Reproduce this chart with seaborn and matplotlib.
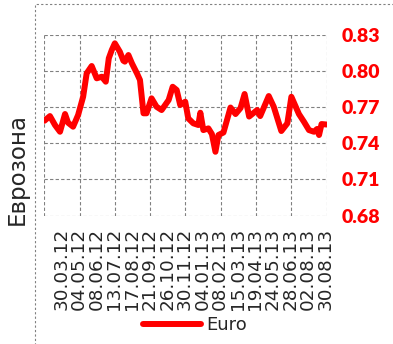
import pandas as pd
import numpy as np
import matplotlib
matplotlib.use('Agg')
import matplotlib.pyplot as plt
import matplotlib.dates as mdates
from matplotlib.ticker import FixedLocator
from matplotlib.patches import Rectangle
import seaborn as sns

# --- Data (EUR rate, Eurozone) ---
dates = ['2012-02-25', '2012-03-07', '2012-03-17', '2012-03-27', '2012-04-06',
         '2012-04-12', '2012-04-22', '2012-05-02', '2012-05-12', '2012-05-19',
         '2012-05-29', '2012-06-08', '2012-06-18', '2012-06-26', '2012-07-02',
         '2012-07-08', '2012-07-14', '2012-07-24', '2012-07-31', '2012-08-03',
         '2012-08-10', '2012-08-17', '2012-08-27', '2012-09-02', '2012-09-09',
         '2012-09-15', '2012-09-25', '2012-10-05', '2012-10-15', '2012-10-29',
         '2012-11-06', '2012-11-14', '2012-11-21', '2012-12-01', '2012-12-07',
         '2012-12-17', '2012-12-27', '2012-12-31', '2013-01-06', '2013-01-16',
         '2013-01-23', '2013-01-30', '2013-02-05', '2013-02-15', '2013-03-01',
         '2013-03-11', '2013-03-21', '2013-03-29', '2013-04-07', '2013-04-23',
         '2013-04-29', '2013-05-16', '2013-05-26', '2013-06-10', '2013-06-22',
         '2013-06-30', '2013-07-15', '2013-07-25', '2013-08-04', '2013-08-14',
         '2013-08-20', '2013-08-24', '2013-08-29', '2013-09-08']
euro = [0.7585, 0.7624, 0.7550, 0.7494, 0.7641,
        0.7569, 0.7536, 0.7633, 0.7784, 0.7978,
        0.8039, 0.7937, 0.7950, 0.7909, 0.8103,
        0.8172, 0.8227, 0.8157, 0.8083, 0.8075,
        0.8130, 0.8061, 0.7978, 0.7923, 0.7647,
        0.7647, 0.7771, 0.7701, 0.7674, 0.7757,
        0.7867, 0.7840, 0.7716, 0.7743, 0.7605,
        0.7564, 0.7550, 0.7652, 0.7508, 0.7522,
        0.7475, 0.7328, 0.7467, 0.7488, 0.7695,
        0.7641, 0.7691, 0.7807, 0.7620, 0.7674,
        0.7624, 0.7790, 0.7701, 0.7500, 0.7564,
        0.7784, 0.7641, 0.7577, 0.7508, 0.7494,
        0.7517, 0.7467, 0.7558, 0.7554]

# category-style axis: labels sit at a regular 35-day step
tick_labels = ['30.03.12', '04.05.12', '08.06.12', '13.07.12', '17.08.12',
               '21.09.12', '26.10.12', '30.11.12', '04.01.13', '08.02.13',
               '15.03.13', '19.04.13', '24.05.13', '28.06.13', '02.08.13',
               '30.08.13']
tick_pos = pd.date_range('2012-03-30', periods=len(tick_labels), freq='35D')
y_ticks = [0.68, 0.71, 0.74, 0.77, 0.80, 0.83]

df = pd.DataFrame({'Date': pd.to_datetime(dates), 'Euro': euro})

sns.set_style('white')
plt.rcParams['font.family'] = ['DejaVu Sans']

fig = plt.figure(figsize=(3.93, 3.44), dpi=100)
ax = fig.add_axes([0.113, 0.3735, 0.718, 0.5262])

sns.lineplot(data=df, x='Date', y='Euro', color='#ff0000', linewidth=4.3,
             ax=ax, label='Euro', solid_capstyle='round', solid_joinstyle='round')

# axes limits / ticks
x0, x1 = df['Date'].iloc[0], df['Date'].iloc[-1]
ax.set_xlim(x0, x1)
ax.set_ylim(0.68, 0.83)
ax.set_yticks(y_ticks)
ax.set_yticklabels([f'{v:.2f}' for v in y_ticks])
ax.yaxis.tick_right()
ax.tick_params(axis='y', length=0, pad=11, labelcolor='#ff0000')
for lbl in ax.get_yticklabels():
    lbl.set_fontfamily('Lato')
    lbl.set_fontweight('heavy')
    lbl.set_fontsize(14)

ax.set_xticks(tick_pos)
ax.set_xticklabels(tick_labels, rotation=90, fontsize=13.2)
ax.tick_params(axis='x', length=0, pad=9)

# vertical gridlines evenly spaced across the plot area (8 columns)
gx = np.linspace(mdates.date2num(x0), mdates.date2num(x1), 9)
ax.xaxis.set_minor_locator(FixedLocator(gx))
ax.tick_params(axis='x', which='minor', length=0)
grid_kw = dict(color='#808080', linewidth=0.8, linestyle=(0, (3, 2)))
ax.grid(False)
ax.grid(True, which='minor', axis='x', **grid_kw)
ax.grid(True, which='major', axis='y', **grid_kw)
for s in ax.spines.values():
    s.set_visible(False)

ax.set_xlabel('')
ax.set_ylabel('')
fig.text(17 / 393, 1 - 169 / 344, 'Еврозона', rotation=90, ha='center',
         va='center', fontsize=16.5)

ax.legend_.remove()
fig.legend(*ax.get_legend_handles_labels(), loc='center', bbox_to_anchor=(0.497, 0.055),
           frameon=False, fontsize=13, handlelength=3.2, handletextpad=0.3)

# dashed outer chart-area border
fig.patches.append(Rectangle((34.5 / 393, -0.1), 1.2, 1.1 - 4.5 / 344,
                             transform=fig.transFigure, fill=False,
                             edgecolor='#808080', linewidth=0.8,
                             linestyle=(0, (2, 2)), zorder=0))

plt.savefig('out.png', dpi=100)
